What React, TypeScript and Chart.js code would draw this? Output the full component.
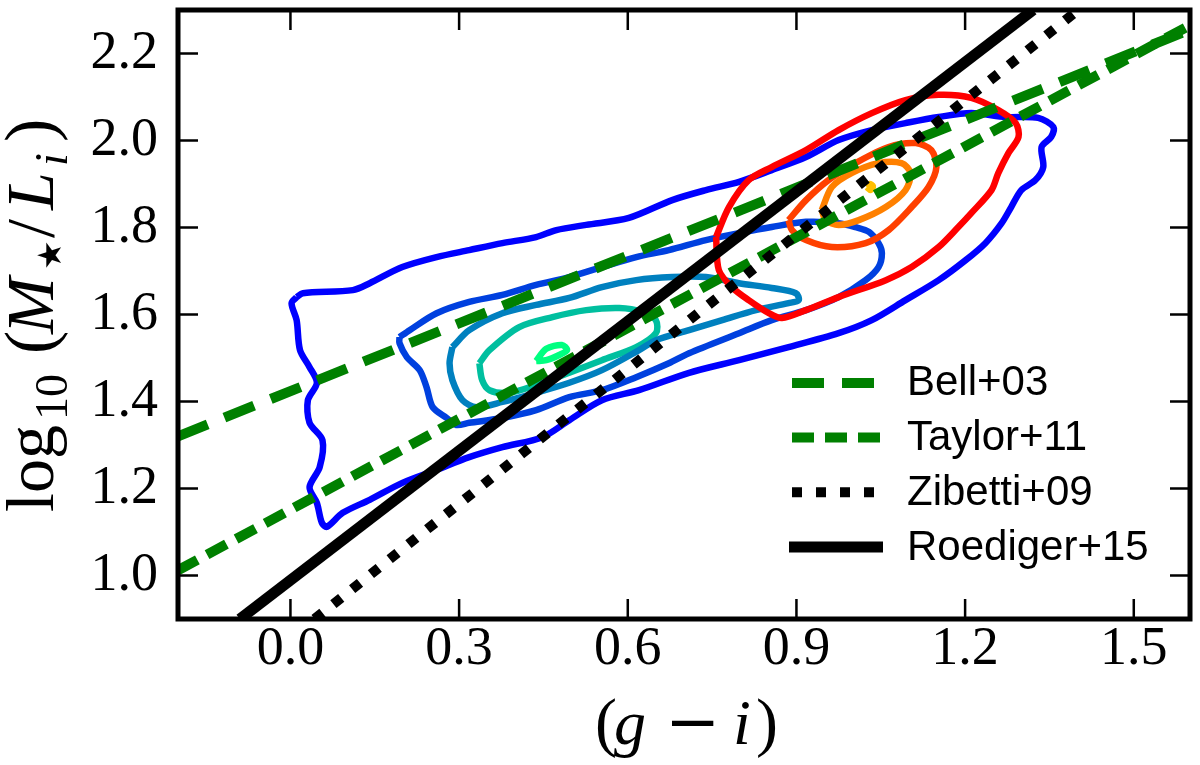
import { useEffect, useRef } from "react";
import { Chart, registerables, type Plugin } from "chart.js";

Chart.register(...registerables);

type Pt = [number, number];

// axis ticks
const xTicks = [0, 0.3, 0.6, 0.9, 1.2, 1.5];
const yTicks = [1.0, 1.2, 1.4, 1.6, 1.8, 2.0, 2.2];

// literature relations (end points)
const relationNames = ["Bell+03", "Taylor+11", "Zibetti+09", "Roediger+15"];
const bellLine: Pt[] = [[-0.2, 1.32], [1.6, 2.255]];
const taylorLine: Pt[] = [[-0.2, 1.012], [1.6, 2.265]];
const zibettiLine: Pt[] = [[0.043, 0.9], [1.401, 2.3]];
const roedigerLine: Pt[] = [[-0.09, 0.9], [1.321, 2.3]];

// blue-sample contours (outer -> inner)
const blueOuter: Pt[] = [
  [0.011, 1.64], [0.022, 1.649], [0.111, 1.656], [0.141, 1.672], [0.199, 1.709], [0.26, 1.732],
  [0.318, 1.748], [0.377, 1.764], [0.437, 1.778], [0.473, 1.794], [0.526, 1.806], [0.602, 1.822],
  [0.679, 1.863], [0.739, 1.886], [0.798, 1.905], [0.856, 1.932], [0.917, 1.962], [0.975, 2.001],
  [1.034, 2.024], [1.094, 2.04], [1.153, 2.054], [1.211, 2.063], [1.272, 2.054], [1.33, 2.052],
  [1.357, 2.031], [1.353, 2.008], [1.336, 1.985], [1.339, 1.939], [1.325, 1.909], [1.3, 1.886],
  [1.282, 1.847], [1.265, 1.81], [1.236, 1.764], [1.201, 1.725], [1.153, 1.679], [1.094, 1.633],
  [1.034, 1.587], [0.975, 1.557], [0.886, 1.525], [0.798, 1.495], [0.709, 1.466], [0.62, 1.426],
  [0.554, 1.403], [0.496, 1.357], [0.448, 1.318], [0.377, 1.295], [0.318, 1.272], [0.26, 1.243],
  [0.199, 1.213], [0.141, 1.174], [0.093, 1.144], [0.065, 1.112], [0.056, 1.121], [0.047, 1.167],
  [0.034, 1.203], [0.052, 1.249], [0.057, 1.311], [0.034, 1.351], [0.031, 1.403], [0.047, 1.443],
  [0.034, 1.479], [0.017, 1.518], [0.011, 1.587], [0.002, 1.626], [0.011, 1.64],
];
const blueSecond: Pt[] = [
  [0.194, 1.548], [0.212, 1.564], [0.26, 1.603], [0.318, 1.629], [0.377, 1.645], [0.437, 1.668],
  [0.496, 1.686], [0.554, 1.709], [0.615, 1.732], [0.673, 1.748], [0.739, 1.771], [0.798, 1.787],
  [0.856, 1.801], [0.917, 1.813], [0.975, 1.81], [1.005, 1.801], [1.029, 1.79], [1.046, 1.764],
  [1.052, 1.741], [1.046, 1.709], [1.023, 1.679], [0.975, 1.64], [0.917, 1.61], [0.856, 1.587],
  [0.798, 1.557], [0.709, 1.511], [0.673, 1.488], [0.615, 1.456], [0.554, 1.426], [0.496, 1.41],
  [0.437, 1.38], [0.377, 1.362], [0.318, 1.351], [0.295, 1.346], [0.278, 1.362], [0.253, 1.387],
  [0.242, 1.433], [0.23, 1.472], [0.207, 1.502], [0.194, 1.534], [0.194, 1.548],
];
const blueThird: Pt[] = [
  [0.288, 1.525], [0.318, 1.564], [0.377, 1.603], [0.437, 1.622], [0.496, 1.638], [0.554, 1.663],
  [0.615, 1.679], [0.679, 1.686], [0.739, 1.686], [0.798, 1.672], [0.856, 1.661], [0.899, 1.649],
  [0.904, 1.633], [0.886, 1.626], [0.828, 1.61], [0.768, 1.587], [0.709, 1.564], [0.65, 1.541],
  [0.62, 1.518], [0.554, 1.472], [0.496, 1.443], [0.437, 1.42], [0.377, 1.399], [0.331, 1.387],
  [0.306, 1.403], [0.288, 1.449], [0.283, 1.488], [0.288, 1.525],
];
const blueFourth: Pt[] = [
  [0.336, 1.488], [0.354, 1.518], [0.407, 1.571], [0.466, 1.594], [0.526, 1.61], [0.585, 1.615],
  [0.626, 1.606], [0.65, 1.587], [0.65, 1.557], [0.615, 1.525], [0.554, 1.495], [0.496, 1.466],
  [0.437, 1.438], [0.389, 1.42], [0.354, 1.426], [0.341, 1.449], [0.336, 1.488],
];
const blueInner: Pt[] = [
  [0.437, 1.493], [0.455, 1.521], [0.483, 1.53], [0.492, 1.518], [0.478, 1.507], [0.455, 1.495],
  [0.437, 1.493],
];

// red-sample contours (outer -> inner)
const redOuter: Pt[] = [
  [0.757, 1.778], [0.78, 1.847], [0.815, 1.909], [0.856, 1.939], [0.917, 1.978], [0.975, 2.024],
  [1.034, 2.063], [1.094, 2.093], [1.153, 2.105], [1.211, 2.098], [1.259, 2.07], [1.29, 2.04],
  [1.295, 2.008], [1.277, 1.971], [1.259, 1.925], [1.247, 1.886], [1.211, 1.833], [1.188, 1.801],
  [1.153, 1.755], [1.105, 1.709], [1.059, 1.679], [0.975, 1.64], [0.917, 1.61], [0.874, 1.592],
  [0.851, 1.603], [0.815, 1.633], [0.785, 1.663], [0.762, 1.702], [0.757, 1.778],
];
const redSecond: Pt[] = [
  [0.886, 1.817], [0.917, 1.863], [0.957, 1.909], [1.005, 1.948], [1.064, 1.985], [1.112, 1.994],
  [1.14, 1.978], [1.149, 1.939], [1.135, 1.893], [1.105, 1.847], [1.064, 1.794], [1.023, 1.764],
  [0.963, 1.755], [0.917, 1.771], [0.892, 1.794], [0.886, 1.817],
];
const redThird: Pt[] = [
  [0.945, 1.84], [0.963, 1.893], [0.998, 1.925], [1.046, 1.948], [1.087, 1.948], [1.103, 1.925],
  [1.094, 1.886], [1.059, 1.847], [1.011, 1.817], [0.975, 1.806], [0.952, 1.817], [0.945, 1.84],
];
const redInner: Pt[] = [
  [1.025, 1.893], [1.03, 1.9], [1.036, 1.895], [1.032, 1.886], [1.025, 1.893],
];

const blueContours = [blueOuter, blueSecond, blueThird, blueFourth, blueInner];
const blueColors = ["#0000ff", "#0040df", "#0080bf", "#00bf9f", "#00ff80"];
const redContours = [redOuter, redSecond, redThird, redInner];
const redColors = ["#ff0000", "#ff4000", "#ff8000", "#ffbf00"];

const SERIF = '"Liberation Serif", "Times New Roman", serif';
const SANS = '"Liberation Sans", Arial, sans-serif';

// `at` = offset along the baseline from the start of the title
type Seg = { text: string; size: number; italic?: boolean; dy?: number; at: number; family?: string };

const yTitleLength = 395;
const yTitle: Seg[] = [
  { text: "log", size: 68, at: 0 },
  { text: "10", size: 46, dy: 14, at: 92 },
  { text: "(", size: 70, at: 158 },
  { text: "M", size: 68, italic: true, at: 178 },
  { text: "\u2605", size: 33, dy: 8, at: 242, family: '"DejaVu Sans", sans-serif' },
  { text: "/", size: 68, at: 274 },
  { text: "L", size: 68, italic: true, at: 302 },
  { text: "i", size: 46, italic: true, dy: 14, at: 346 },
  { text: ")", size: 70, at: 370 },
];
const xTitleLength = 182;
const xTitle: Seg[] = [
  { text: "(", size: 66, at: 0 },
  { text: "g", size: 64, italic: true, at: 19 },
  { text: "\u2212", size: 66, at: 70, family: '"DejaVu Serif", serif' },
  { text: "i", size: 64, italic: true, at: 138 },
  { text: ")", size: 66, at: 161 },
];

function segFont(s: Seg) {
  return `${s.italic ? "italic " : ""}${s.size}px ${s.family ?? SERIF}`;
}

function drawRich(ctx: CanvasRenderingContext2D, segs: Seg[], x: number, y: number) {
  for (const s of segs) {
    ctx.font = segFont(s);
    ctx.fillText(s.text, x + s.at, y + (s.dy ?? 0));
  }
}

const toXY = (pts: Pt[]) => pts.map(([x, y]) => ({ x, y }));

// frame, inward ticks on all four sides, axis titles and legend
const decorPlugin: Plugin<"scatter"> = {
  id: "decor",
  afterDraw(chart) {
    const { ctx, chartArea: a } = chart;
    const xs = chart.scales.x;
    const ys = chart.scales.y;
    ctx.save();

    ctx.strokeStyle = "#000";
    ctx.lineWidth = 2.5;
    ctx.beginPath();
    for (const v of xTicks) {
      const px = xs.getPixelForValue(v);
      ctx.moveTo(px, a.bottom);
      ctx.lineTo(px, a.bottom - 20);
      ctx.moveTo(px, a.top);
      ctx.lineTo(px, a.top + 20);
    }
    for (const v of yTicks) {
      const py = ys.getPixelForValue(v);
      ctx.moveTo(a.left, py);
      ctx.lineTo(a.left + 20, py);
      ctx.moveTo(a.right, py);
      ctx.lineTo(a.right - 20, py);
    }
    ctx.stroke();

    ctx.lineWidth = 5;
    ctx.strokeRect(a.left, a.top, a.right - a.left, a.bottom - a.top);

    // legend
    chart.data.datasets.forEach((ds: any) => {
      const i = relationNames.indexOf(ds.label);
      if (i < 0) return;
      const y = a.bottom - 72 - (relationNames.length - 1 - i) * 54.7;
      ctx.save();
      ctx.strokeStyle = ds.borderColor;
      ctx.lineWidth = ds.borderWidth;
      ctx.lineCap = "butt";
      ctx.setLineDash(ds.borderDash ?? []);
      ctx.beginPath();
      const extra = ds.borderDash ? 0 : 3;
      ctx.moveTo(a.right - 398 - extra, y);
      ctx.lineTo(a.right - 310 + extra, y);
      ctx.stroke();
      ctx.restore();
      ctx.fillStyle = "#000";
      ctx.font = `42px ${SANS}`;
      ctx.textAlign = "left";
      ctx.textBaseline = "middle";
      ctx.fillText(ds.label, a.right - 283, y + 1);
    });

    // axis titles
    ctx.fillStyle = "#000";
    ctx.textAlign = "left";
    ctx.textBaseline = "alphabetic";
    drawRich(ctx, xTitle, (a.left + a.right) / 2 - xTitleLength / 2 + 2, 744);

    ctx.translate(53, (a.top + a.bottom) / 2);
    ctx.rotate(-Math.PI / 2);
    drawRich(ctx, yTitle, -yTitleLength / 2, 0);

    ctx.restore();
  },
};

export default function App() {
  const canvasRef = useRef<HTMLCanvasElement | null>(null);

  useEffect(() => {
    const el = canvasRef.current;
    if (!el) return;

    const lineStyle = { showLine: true, pointRadius: 0, fill: false, clip: 0, borderCapStyle: "butt" as const };

    const relations = [
      { label: relationNames[0], data: toXY(bellLine), borderColor: "#008000", borderWidth: 10, borderDash: [32, 18], order: 3 },
      { label: relationNames[1], data: toXY(taylorLine), borderColor: "#008000", borderWidth: 10, borderDash: [22, 11], order: 2 },
      { label: relationNames[2], data: toXY(zibettiLine), borderColor: "#000000", borderWidth: 10, borderDash: [10, 14], order: 1 },
      { label: relationNames[3], data: toXY(roedigerLine), borderColor: "#000000", borderWidth: 11, order: 0 },
    ].map((d) => ({ ...lineStyle, ...d }));

    const contour = (pts: Pt[], color: string, order: number, name: string) => ({
      ...lineStyle,
      label: name,
      data: toXY(pts),
      borderColor: color,
      borderWidth: 6.5,
      borderJoinStyle: "round" as const,
      tension: 0.3,
      order,
    });

    const datasets = [
      ...relations,
      ...redContours.map((c, i) => contour(c, redColors[i], 10 + i, `red ${i + 1}`)),
      ...blueContours.map((c, i) => contour(c, blueColors[i], 20 + i, `blue ${i + 1}`)),
    ];

    const chart = new Chart(el, {
      type: "scatter",
      data: { datasets: datasets as any },
      options: {
        responsive: false,
        animation: false,
        events: [],
        layout: { padding: { top: 10, right: 10, left: 0, bottom: 0 } },
        plugins: { legend: { display: false }, tooltip: { enabled: false } },
        scales: {
          x: {
            type: "linear",
            min: -0.2,
            max: 1.6,
            grid: { display: false },
            border: { display: false },
            afterBuildTicks: (s) => {
              s.ticks = xTicks.map((value) => ({ value }));
            },
            afterFit: (s: any) => {
              s.height = 146;
              s.paddingLeft = 0;
              s.paddingRight = 0;
            },
            ticks: {
              padding: -10,
              color: "#000",
              font: { family: SERIF, size: 54 },
              callback: (v) => Number(v).toFixed(1),
            },
          },
          y: {
            type: "linear",
            min: 0.9,
            max: 2.3,
            grid: { display: false },
            border: { display: false },
            afterBuildTicks: (s) => {
              s.ticks = yTicks.map((value) => ({ value }));
            },
            afterFit: (s: any) => {
              s.width = 178;
              s.paddingTop = 0;
              s.paddingBottom = 0;
            },
            ticks: {
              padding: 12,
              color: "#000",
              font: { family: SERIF, size: 54 },
              callback: (v) => Number(v).toFixed(1),
            },
          },
        },
      },
      plugins: [decorPlugin],
    });

    return () => chart.destroy();
  }, []);

  return (
    <div style={{ position: "absolute", left: 0, top: 0, width: 1200, height: 765, background: "#fff" }}>
      <canvas ref={canvasRef} width={1200} height={765} style={{ width: 1200, height: 765 }} />
    </div>
  );
}
